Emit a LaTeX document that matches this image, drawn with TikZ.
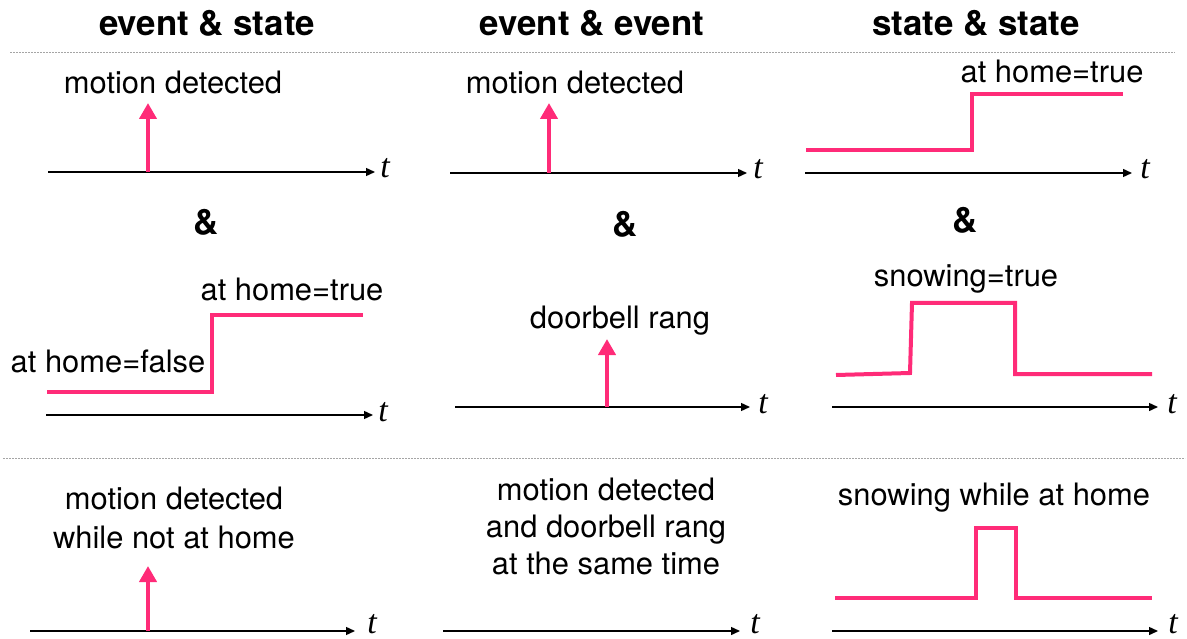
\documentclass[tikz,border=0pt]{standalone}
\usepackage{fontspec}
\setmainfont{TeX Gyre Heros}
\newfontfamily\axisfont{Liberation Serif}
\usetikzlibrary{arrows.meta}
\definecolor{signal}{RGB}{255,43,120}
\definecolor{rule}{RGB}{165,165,165}
\tikzset{
  head/.style={font=\fontsize{35}{40}\selectfont\bfseries, anchor=base, inner sep=0pt},
  amp/.style={font=\fontsize{35}{40}\selectfont\bfseries, anchor=base, inner sep=0pt},
  lbl/.style={font=\fontsize{31}{37}\selectfont, anchor=base, inner sep=0pt},
  tlbl/.style={font=\fontsize{34}{40}\selectfont\axisfont\itshape, anchor=base, inner sep=0pt},
  axis/.style={line width=1.4bp, black, -{Triangle[width=8bp,length=9bp]}},
  event/.style={line width=4bp, signal, -{Triangle[width=17bp,length=16bp]}},
  state/.style={line width=4bp, signal, line join=miter},
  divider/.style={line width=1bp, rule, dash pattern=on 1.5bp off 1.5bp},
}
\begin{document}
\begin{tikzpicture}[x=1bp,y=-1bp]
\path[use as bounding box] (0,0) rectangle (1187,639);

% column headings
\node[head] (h1) at (207,36) {event \& state};
\node[head] (h2) at (592,36) {event \& event};
\node[head] (h3) at (976,36) {state \& state};

% dividers
\coordinate (d1a) at (10,53);  \coordinate (d1b) at (1175,53);
\coordinate (d2a) at (3,458);  \coordinate (d2b) at (1185,458);
\draw[divider] (d1a) -- (d1b);
\draw[divider] (d2a) -- (d2b);

% ---------- row 1 ----------
% motion detected (event)
\coordinate (a1s) at (48,172); \coordinate (a1e) at (375,172);
\draw[axis] (a1s) -- (a1e);
\node[tlbl] (t1) at (385,178) {t};
\coordinate (e1b) at (148,172); \coordinate (e1t) at (148,103);
\draw[event] (e1b) -- (e1t);
\node[lbl] (l1) at (173,94) {motion detected};

% motion detected (event)
\coordinate (a2s) at (450,173); \coordinate (a2e) at (747,173);
\draw[axis] (a2s) -- (a2e);
\node[tlbl] (t2) at (758,179) {t};
\coordinate (e2b) at (549,173); \coordinate (e2t) at (549,103);
\draw[event] (e2b) -- (e2t);
\node[lbl] (l2) at (575,94) {motion detected};

% at home (state)
\coordinate (a3s) at (805,173); \coordinate (a3e) at (1132,173);
\draw[axis] (a3s) -- (a3e);
\node[tlbl] (t3) at (1145,179) {t};
\coordinate (s3a) at (806,150); \coordinate (s3b) at (972,150);
\coordinate (s3c) at (972,94);  \coordinate (s3d) at (1123,94);
\draw[state] (s3a) -- (s3b) -- (s3c) -- (s3d);
\node[lbl] (l3) at (1052,83) {at home=true};

% conjunctions
\node[amp] (and1) at (206,235) {\&};
\node[amp] (and2) at (625,237) {\&};
\node[amp] (and3) at (965,233) {\&};

% ---------- row 2 ----------
% at home (state)
\coordinate (a4s) at (46,415); \coordinate (a4e) at (373,415);
\draw[axis] (a4s) -- (a4e);
\node[tlbl] (t4) at (383,421) {t};
\coordinate (s4a) at (47,392);  \coordinate (s4b) at (212,392);
\coordinate (s4c) at (212,315); \coordinate (s4d) at (363,315);
\draw[state] (s4a) -- (s4b) -- (s4c) -- (s4d);
\node[lbl] (l4a) at (292,301) {at home=true};
\node[lbl] (l4b) at (108,372) {at home=false};

% doorbell rang (event)
\coordinate (a5s) at (455,407); \coordinate (a5e) at (750,407);
\draw[axis] (a5s) -- (a5e);
\node[tlbl] (t5) at (763,413) {t};
\coordinate (e5b) at (607,407); \coordinate (e5t) at (607,339);
\draw[event] (e5b) -- (e5t);
\node[lbl] (l5) at (620,329) {doorbell rang};

% snowing (state)
\coordinate (a6s) at (832,407); \coordinate (a6e) at (1158,407);
\draw[axis] (a6s) -- (a6e);
\node[tlbl] (t6) at (1172,413) {t};
\coordinate (s6a) at (836,375);  \coordinate (s6b) at (910,373);
\coordinate (s6c) at (912,303);  \coordinate (s6d) at (1015,303);
\coordinate (s6e) at (1015,374); \coordinate (s6f) at (1152,374);
\draw[state] (s6a) -- (s6b) -- (s6c) -- (s6d) -- (s6e) -- (s6f);
\node[lbl] (l6) at (966,287) {snowing=true};

% ---------- row 3: combinations ----------
% event & state
\coordinate (a7s) at (30,631); \coordinate (a7e) at (355,631);
\draw[axis] (a7s) -- (a7e);
\node[tlbl] (t7) at (372,633) {t};
\coordinate (e7b) at (148,631); \coordinate (e7t) at (148,566);
\draw[event] (e7b) -- (e7t);
\node[lbl] (l7a) at (174,509) {motion detected};
\node[lbl] (l7b) at (174,548) {while not at home};

% event & event
\coordinate (a8s) at (443,631); \coordinate (a8e) at (740,631);
\draw[axis] (a8s) -- (a8e);
\node[tlbl] (t8) at (755,633) {t};
\node[lbl] (l8a) at (606,500) {motion detected};
\node[lbl] (l8b) at (606,537) {and doorbell rang};
\node[lbl] (l8c) at (606,574) {at the same time};

% state & state
\coordinate (a9s) at (832,631); \coordinate (a9e) at (1158,631);
\draw[axis] (a9s) -- (a9e);
\node[tlbl] (t9) at (1173,633) {t};
\coordinate (s9a) at (835,598);  \coordinate (s9b) at (976,598);
\coordinate (s9c) at (976,528);  \coordinate (s9d) at (1016,528);
\coordinate (s9e) at (1016,598); \coordinate (s9f) at (1152,598);
\draw[state] (s9a) -- (s9b) -- (s9c) -- (s9d) -- (s9e) -- (s9f);
\node[lbl] (l9) at (994,505) {snowing while at home};
\end{tikzpicture}
\end{document}
